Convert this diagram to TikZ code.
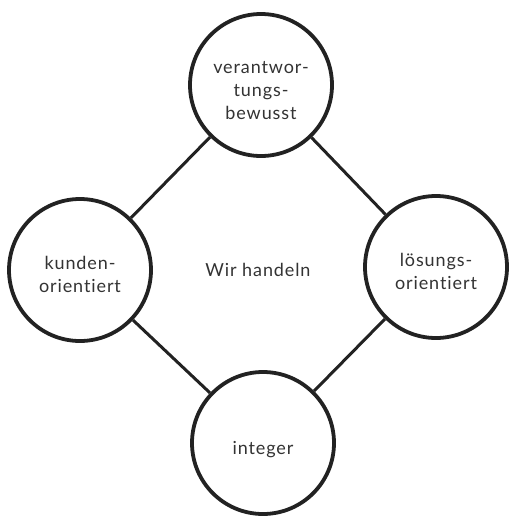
\documentclass[tikz,border=0pt]{standalone}
\usepackage{fontspec}
\setmainfont{Lato}[LetterSpace=5,Ligatures={NoCommon,NoRequired}]
\definecolor{ink}{HTML}{222222}
\definecolor{txt}{HTML}{333333}
\begin{document}
\begin{tikzpicture}[x=1pt,y=-1pt,
  value/.style={circle,draw=ink,line width=3.8pt,fill=white,minimum size=142pt,inner sep=0pt},
  caption/.style={align=center,text=txt,inner sep=0pt,font=\fontsize{18}{23}\selectfont},
  link/.style={draw=ink,line width=3pt}]
  \useasboundingbox (0,0) rectangle (509,517);
  \coordinate (c) at (258,270);
  % the four value circles
  \node[value] (top) at (261,85) {};
  \node[value] (left) at (80,270) {};
  \node[value] (right) at (436,267) {};
  \node[value] (bottom) at (263,443) {};
  % connectors between neighbouring circles
  \draw[link] (top) -- (left);
  \draw[link] (top) -- (right);
  \draw[link] (left) -- (bottom);
  \draw[link] (right) -- (bottom);
  % captions
  \node[caption,yshift=-6pt] (toptext) at (top.center) {verantwor-\\tungs-\\bewusst};
  \node[caption,yshift=-4pt] (lefttext) at (left.center) {kunden-\\orientiert};
  \node[caption,yshift=-4pt] (righttext) at (right.center) {lösungs-\\orientiert};
  \node[caption,yshift=-7pt] (bottomtext) at (bottom.center) {integer};
  \node[caption] (center) at (c) {Wir handeln};
\end{tikzpicture}
\end{document}
